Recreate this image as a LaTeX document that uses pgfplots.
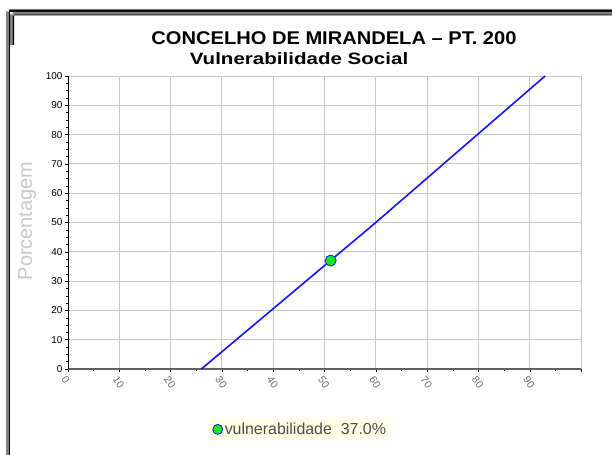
\documentclass[border=0pt]{standalone}
\usepackage{fontspec}
\setmainfont{Liberation Sans}
\usepackage{pgfplots}
\pgfplotsset{compat=1.18}

\definecolor{framegray}{RGB}{128,128,128}
\definecolor{gridgray}{RGB}{200,200,200}
\definecolor{labgray}{RGB}{200,200,200}
\definecolor{tickgray}{RGB}{110,110,110}
\definecolor{axisgray}{RGB}{96,96,96}
\definecolor{legbg}{RGB}{255,255,232}
\definecolor{vblue}{RGB}{20,20,255}
\definecolor{vgreen}{RGB}{20,235,20}

\begin{document}
\begin{tikzpicture}
\begin{scope}[x=1bp,y=1bp]
% page and window frame (pixel coords, y measured from the bottom)
\fill[white] (0,0) rectangle (612,455);
\useasboundingbox (0,0) rectangle (612,455);
\fill[framegray] (6,0) rectangle (9,446) (6,446) rectangle (612,443.5);
\fill[black] (8.5,0) rectangle (10,444.5);
\fill[black] (8.5,444.5) rectangle (612,443);
\fill[framegray] (10,410) rectangle (12.5,443) (10,443) rectangle (612,440.5);
\fill[black] (12.5,410) rectangle (14,440.5) (12.5,440.5) rectangle (612,439.5);

\node[xscale=1.09, font=\fontsize{18.5}{20}\selectfont\bfseries] at (334,416.5) {CONCELHO DE MIRANDELA – PT. 200};
\node[xscale=1.25, font=\fontsize{16.5}{19}\selectfont\bfseries] at (299,396) {Vulnerabilidade Social};
\node[rotate=90, text=labgray, font=\fontsize{20}{24}\selectfont] at (27,234) {Porcentagem};
\end{scope}

\begin{axis}[
  at={(68bp,86bp)}, anchor=south west,
  scale only axis, width=513bp, height=293bp,
  xmin=0, xmax=100, ymin=0, ymax=100,
  axis x line*=bottom, axis y line*=left,
  x axis line style={-, axisgray, line width=1.6pt},
  y axis line style={-, black, line width=0.8pt},
  xtick={0,10,...,100},
  xticklabels={0,10,20,30,40,50,60,70,80,90,{}},
  ytick={0,10,...,100},
  minor x tick num=1, minor y tick num=3,
  tick align=outside,
  major tick length=3bp, minor tick length=2bp,
  every tick/.style={black, line width=0.4pt},
  grid=major,
  major grid style={gridgray, line width=0.9pt},
  /pgf/number format/assume math mode=true,
  yticklabel style={font=\fontsize{10}{11}\selectfont, text=black, xshift=1bp},
  xticklabel style={font=\fontsize{10.5}{11}\selectfont, text=tickgray, xshift=-6bp, yshift=-3bp, rotate=-55, anchor=west},
  legend style={at={(0.453,-0.206)}, anchor=center, draw=none, fill=legbg,
    font=\fontsize{16}{18}\selectfont, text=black!70, inner xsep=3bp, inner ysep=2.5bp},
  legend cell align=left,
  legend image post style={mark size=5bp},
  clip=false
]
\addplot[vblue, line width=1.6pt, forget plot] coordinates {(26,0) (60,50) (93,100)};
\addplot[only marks, mark=*, mark size=5.5bp, mark options={fill=vgreen, draw=vblue, line width=0.8pt}] coordinates {(51.2,37)};
\legend{vulnerabilidade\ \ 37.0\%}
\end{axis}
\end{tikzpicture}
\end{document}
